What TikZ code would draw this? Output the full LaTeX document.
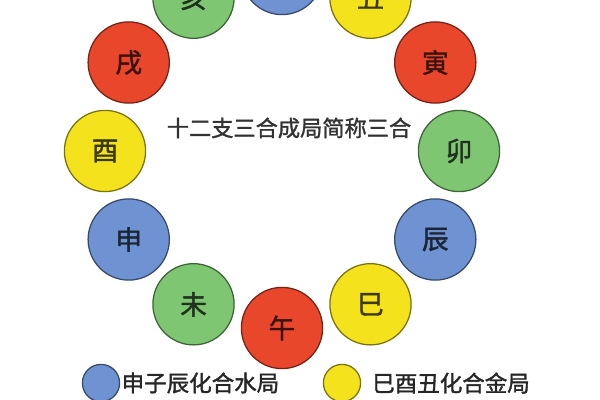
\documentclass[tikz,border=0pt]{standalone}
\usepackage{fontspec}
\newfontfamily\zhfont[FakeBold=1.5]{Noto Sans CJK SC}
\usetikzlibrary{positioning}
\definecolor{zhiblue}{HTML}{6F93D2}
\definecolor{zhiyellow}{HTML}{F4E31C}
\definecolor{zhired}{HTML}{E8472B}
\definecolor{zhigreen}{HTML}{7EC672}

\begin{document}
\begin{tikzpicture}[x=0.025cm,y=-0.025cm,
    zhi/.style={circle,draw=#1!50!black,fill=#1,line width=0.9pt,minimum size=2.03cm,inner sep=0pt,
      text=#1!25!black,font=\zhfont\fontsize{19pt}{19pt}\selectfont},
    key/.style={circle,draw=#1!50!black,fill=#1,line width=0.9pt,minimum size=0.93cm,inner sep=0pt},
    keytext/.style={inner sep=0pt,text=black!85,font=\zhfont\fontsize{16pt}{16pt}\selectfont}]
    \useasboundingbox (0,0) rectangle (600,400);
    \clip (0,0) rectangle (600,400);
    % the twelve branches on a ring
    \foreach \a/\n/\t/\c in {90/zi/子/zhiblue, 60/chou/丑/zhiyellow, 30/yin/寅/zhired,
      0/mao/卯/zhigreen, -30/chen/辰/zhiblue, -60/si/巳/zhiyellow, -90/wu/午/zhired,
      -120/wei/未/zhigreen, -150/shen/申/zhiblue, 180/you/酉/zhiyellow, 150/xu/戌/zhired,
      120/hai/亥/zhigreen}
      \node[zhi=\c] (\n) at ({282+177*cos(\a)},{151-177*sin(\a)}) {\t};
    \node[text=black!80,font=\zhfont\fontsize{15.8pt}{15.8pt}\selectfont] (title) at (289,128) {十二支三合成局简称三合};
    % legend
    \node[key=zhiblue] (keywater) at (101,383) {};
    \node[keytext,right=0.03cm of keywater] (water) {申子辰化合水局};
    \node[key=zhiyellow] (keymetal) at (342,383) {};
    \node[keytext,right=0.27cm of keymetal] (metal) {巳酉丑化合金局};
\end{tikzpicture}
\end{document}
